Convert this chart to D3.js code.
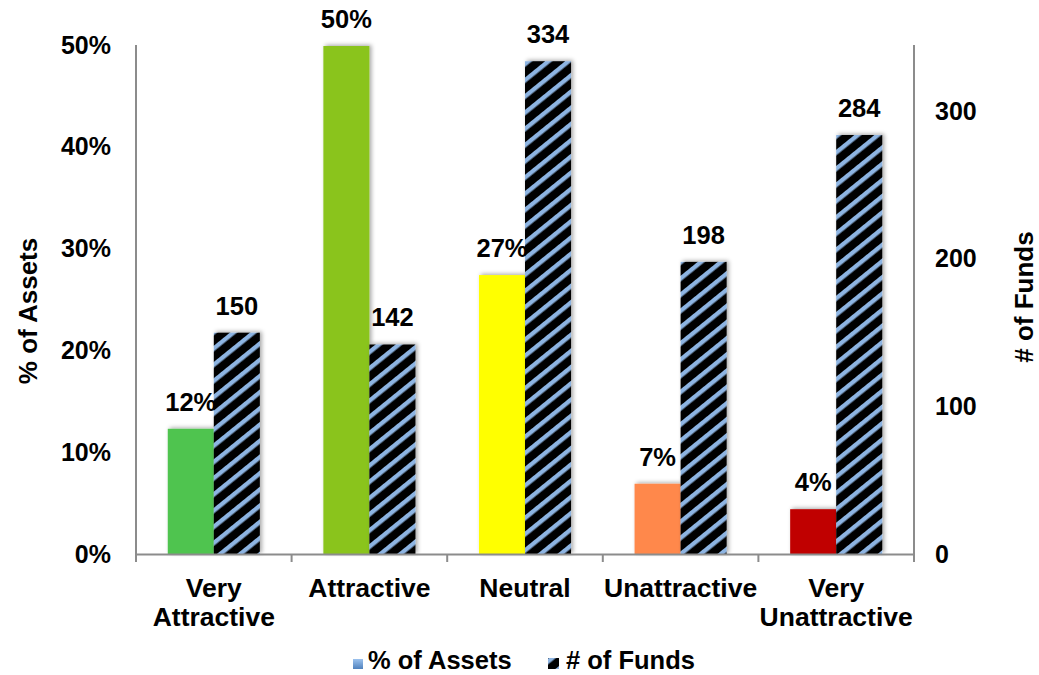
<!DOCTYPE html>
<html>
<head>
<meta charset="utf-8">
<script src="https://cdn.jsdelivr.net/npm/d3@7"></script>
<style>
	body { margin: 0; background: #fff; }
	text { font-family: "Liberation Sans", Arial, sans-serif; font-weight: bold; fill: #000; }
</style>
</head>
<body>
<svg id="chart" width="1039" height="675"></svg>
<script>

// data
const categories = [['Very', 'Attractive'], ['Attractive'], ['Neutral'], ['Unattractive'], ['Very', 'Unattractive']];
const pct_assets = [0.123, 0.499, 0.274, 0.069, 0.044];
const num_funds = [150, 142, 334, 198, 284];
const rating_colors = ['#50c450', '#8ac41c', '#ffff00', '#ff884c', '#c00000'];
const pct_ticks = [0, 0.1, 0.2, 0.3, 0.4, 0.5];
const fund_ticks = [0, 100, 200, 300];

const svg = d3.select('#chart');
const plotLeft = 136, plotRight = 914, plotTop = 45, plotBottom = 554;

const x = d3.scaleBand().domain(d3.range(categories.length)).range([plotLeft, plotRight]);
const sub = d3.scaleBand().domain(['assets', 'funds']).range([0, x.bandwidth()]).paddingOuter(0.69);
const yPct = d3.scaleLinear().domain([0, 0.5]).range([plotBottom, plotTop]);
const yFunds = d3.scaleLinear().domain([0, 345]).range([plotBottom, plotTop]);

const defs = svg.append('defs');
const hatch = defs.append('pattern')
	.attr('id', 'hatch')
	.attr('patternUnits', 'userSpaceOnUse')
	.attr('width', 12.6).attr('height', 12.6)
	.attr('patternTransform', 'rotate(51)');
hatch.append('rect').attr('width', 12.6).attr('height', 12.6).attr('fill', '#000');
hatch.append('rect').attr('x', 0).attr('width', 4.4).attr('height', 12.6).attr('fill', '#8db4e2');

const shadow = defs.append('filter').attr('id', 'shadow')
	.attr('x', '-30%').attr('y', '-30%').attr('width', '160%').attr('height', '160%');
shadow.append('feDropShadow')
	.attr('dx', 2).attr('dy', -1).attr('stdDeviation', 2)
	.attr('flood-color', '#000').attr('flood-opacity', 0.35);

const legendGrad = defs.append('linearGradient').attr('id', 'legblue')
	.attr('x1', 0).attr('y1', 0).attr('x2', 0).attr('y2', 1);
legendGrad.append('stop').attr('offset', '0%').attr('stop-color', '#9cc2ee');
legendGrad.append('stop').attr('offset', '100%').attr('stop-color', '#4f81bd');

// bars
const bars = svg.append('g');
bars.selectAll('.assets')
	.data(pct_assets)
	.join('rect')
	.attr('class', 'assets')
	.attr('x', (d, i) => x(i) + sub('assets'))
	.attr('y', d => yPct(d))
	.attr('width', sub.bandwidth())
	.attr('height', d => plotBottom - yPct(d))
	.attr('fill', (d, i) => rating_colors[i])
	.attr('filter', 'url(#shadow)');

bars.selectAll('.funds')
	.data(num_funds)
	.join('rect')
	.attr('class', 'funds')
	.attr('x', (d, i) => x(i) + sub('funds'))
	.attr('y', d => yFunds(d))
	.attr('width', sub.bandwidth())
	.attr('height', d => plotBottom - yFunds(d))
	.attr('fill', 'url(#hatch)')
	.attr('filter', 'url(#shadow)');

// value labels
svg.append('g').selectAll('text')
	.data(pct_assets)
	.join('text')
	.attr('x', (d, i) => x(i) + sub('assets') + sub.bandwidth() / 2)
	.attr('y', d => yPct(d) - 18)
	.attr('text-anchor', 'middle')
	.style('font-size', '25.5px')
	.text(d => d3.format('.0%')(d));

svg.append('g').selectAll('text')
	.data(num_funds)
	.join('text')
	.attr('x', (d, i) => x(i) + sub('funds') + sub.bandwidth() / 2)
	.attr('y', d => yFunds(d) - 18)
	.attr('text-anchor', 'middle')
	.style('font-size', '25.5px')
	.text(d => d);

// axes
const axisColor = '#8c8c8c';
const gLeft = svg.append('g')
	.attr('transform', `translate(${plotLeft},0)`)
	.call(d3.axisLeft(yPct).tickValues(pct_ticks).tickFormat(d3.format('.0%')).tickSize(0).tickPadding(25));
const gRight = svg.append('g')
	.attr('transform', `translate(${plotRight},0)`)
	.call(d3.axisRight(yFunds).tickValues(fund_ticks).tickSize(0).tickPadding(21));
const gBottom = svg.append('g')
	.attr('transform', `translate(0,${plotBottom})`)
	.call(d3.axisBottom(x).tickSize(0).tickFormat(''));

[gLeft, gRight, gBottom].forEach(g => {
	g.select('.domain').attr('stroke', axisColor).attr('stroke-width', 2);
	g.selectAll('text').style('font-size', '25px').attr('font-family', null).attr('fill', '#000');
});
gLeft.select('.domain').attr('d', `M0,${plotTop}V${plotBottom + 6}`);
gRight.select('.domain').attr('d', `M0,${plotTop}V${plotBottom + 6}`);

// category separators
gBottom.selectAll('.sep')
	.data(d3.range(categories.length + 1))
	.join('line')
	.attr('class', 'sep')
	.attr('x1', i => plotLeft + i * x.step()).attr('x2', i => plotLeft + i * x.step())
	.attr('y1', 0).attr('y2', 8)
	.attr('stroke', axisColor).attr('stroke-width', 2);

// category labels
svg.append('g').selectAll('text')
	.data(categories)
	.join('text')
	.attr('text-anchor', 'middle')
	.style('font-size', '26.5px')
	.each(function (lines, i) {
		d3.select(this).selectAll('tspan')
			.data(lines)
			.join('tspan')
			.attr('x', x(i) + x.bandwidth() / 2)
			.attr('y', (l, j) => 597 + j * 29)
			.text(l => l);
	});

// axis titles
svg.append('text')
	.attr('transform', 'translate(37,311) rotate(-90)')
	.attr('text-anchor', 'middle')
	.style('font-size', '26px')
	.text('% of Assets');
svg.append('text')
	.attr('transform', 'translate(1033,297) rotate(-90)')
	.attr('text-anchor', 'middle')
	.style('font-size', '26px')
	.text('# of Funds');

// legend
const legend = svg.append('g');
legend.append('rect').attr('x', 353).attr('y', 659).attr('width', 10).attr('height', 10).attr('fill', 'url(#legblue)');
legend.append('text').attr('x', 368).attr('y', 669).style('font-size', '25.5px').text('% of Assets');
legend.append('rect').attr('x', 548).attr('y', 658).attr('width', 11).attr('height', 11).attr('fill', 'url(#hatch)');
legend.append('text').attr('x', 566).attr('y', 669).style('font-size', '25.5px').text('# of Funds');

</script>
</body>
</html>
